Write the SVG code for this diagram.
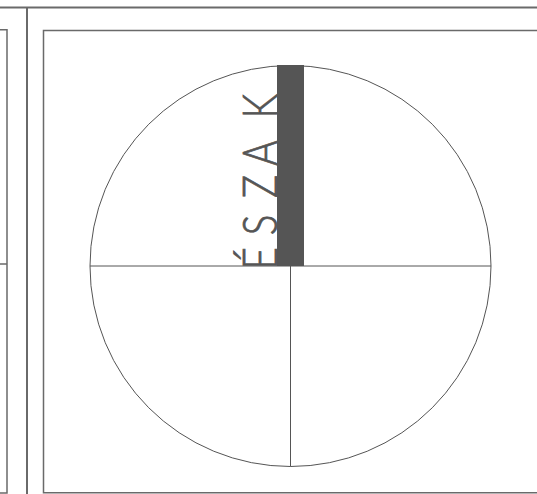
<svg xmlns="http://www.w3.org/2000/svg" width="537" height="494" viewBox="0 0 537 494">
  <style>
    .frame { fill: none; stroke: #6a6a6a; }
    .thin { fill: none; stroke: #555; stroke-width: 1; }
    .label { font-family: Lato, "Liberation Sans", sans-serif; font-weight: 300; font-size: 47px; fill: #555; stroke: #555; stroke-width: 0.8px; }
  </style>
  <rect width="537" height="494" fill="#fff"/>
  <g id="page-frame">
    <line class="frame" x1="0" y1="7.5" x2="537" y2="7.5" stroke-width="2" stroke="#777"/>
    <line class="frame" x1="27" y1="7" x2="27" y2="494" stroke-width="2"/>
    <path class="frame" d="M0,29.7 H7 V493 H0 M0,264 H7" stroke-width="1.5" stroke="#999"/>
    <path class="frame" d="M537,30.5 H43.5 V492.8 H537" stroke-width="1.5" stroke="#555"/>
  </g>
  <g id="compass">
    <circle class="thin" cx="290.5" cy="266" r="200.5"/>
    <line class="thin" x1="90" y1="266" x2="491" y2="266"/>
    <line class="thin" x1="290.5" y1="266" x2="290.5" y2="466.5"/>
    <rect id="north-bar" x="277" y="65" width="27" height="201" fill="#555"/>
  </g>
  <g id="north-label">
    <text class="label" transform="translate(277,266) rotate(-90) scale(0.82,1)" text-anchor="middle" x="9.5 29.6 50 73.5 97 117.4 137.8 166.5 195" y="0">É S Z A K</text>
  </g>
</svg>
